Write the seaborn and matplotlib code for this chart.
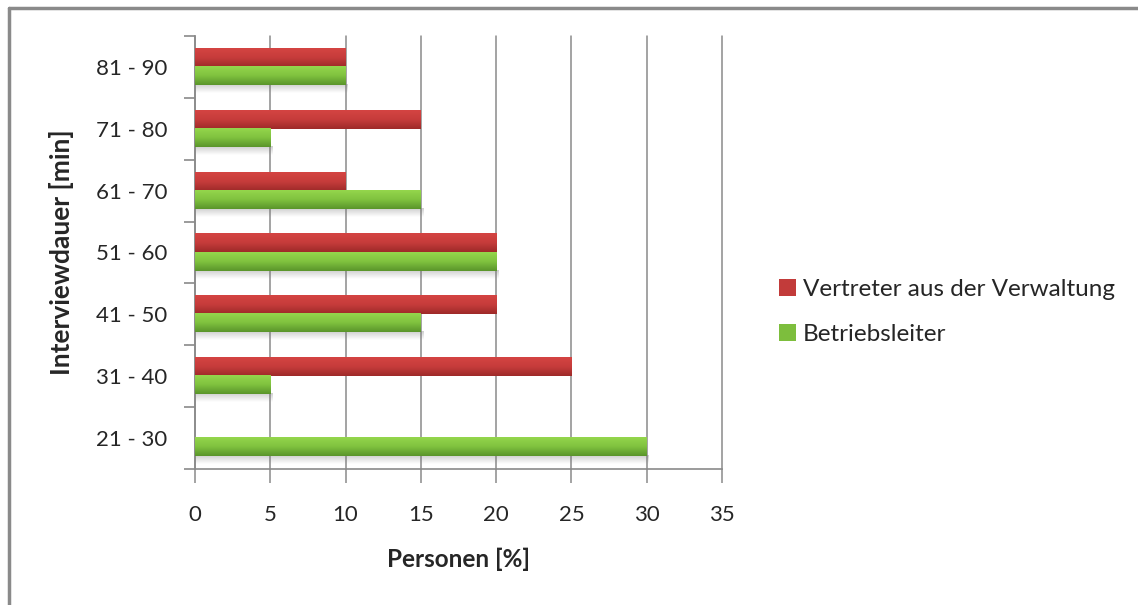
import numpy as np
import pandas as pd
import matplotlib.pyplot as plt
import seaborn as sns
from matplotlib.lines import Line2D
from matplotlib.patches import Patch
from matplotlib.colors import LinearSegmentedColormap

# Data
categories = ['81 - 90', '71 - 80', '61 - 70', '51 - 60', '41 - 50', '31 - 40', '21 - 30']
vertreter = [10, 15, 10, 20, 20, 25, 0]
betriebsleiter = [10, 5, 15, 20, 15, 5, 30]
series_names = ['Vertreter aus der Verwaltung', 'Betriebsleiter']
x_ticks = [0, 5, 10, 15, 20, 25, 30, 35]

colors = ['#C23B3A', '#7DBE3D']
# top -> bottom shading of the bars
gradients = {
    colors[0]: ['#D44442', '#C63C3B', '#9E2A29'],
    colors[1]: ['#94D64C', '#80C23F', '#5A952B'],
}

data = pd.DataFrame({
    'Interviewdauer': categories * 2,
    'Personen': vertreter + betriebsleiter,
    'Gruppe': [series_names[0]] * len(categories) + [series_names[1]] * len(categories),
})

sns.set_style('white')
plt.rcParams['font.family'] = ['Lato', 'DejaVu Sans']

fig = plt.figure(figsize=(11.38, 6.05), dpi=100)
ax = fig.add_axes([195 / 1138, 1 - 469 / 605, (722 - 195) / 1138, (469 - 36) / 605])

sns.barplot(data=data, x='Personen', y='Interviewdauer', hue='Gruppe',
            order=categories, hue_order=series_names, palette=colors,
            orient='h', width=0.585, saturation=1, legend=False, ax=ax,
            zorder=3)

# gradient fill on each bar, soft shadow under the lower bar of each pair
grad = np.linspace(0, 1, 64).reshape(-1, 1)
shadow = np.zeros((32, 1, 4))
shadow[:, 0, :3] = 0.45
shadow[:, 0, 3] = np.linspace(0.35, 0, 32)
for bar in list(ax.patches):
    bar.set_edgecolor('none')
    w = bar.get_width()
    if w <= 0:
        continue
    fc = bar.get_facecolor()
    key = colors[0] if fc[0] > fc[1] else colors[1]
    cmap = LinearSegmentedColormap.from_list('g', gradients[key])
    x0, y0, h = bar.get_x(), bar.get_y(), bar.get_height()
    ax.imshow(grad, cmap=cmap, aspect='auto', extent=[x0, x0 + w, y0 + h, y0],
              zorder=4, interpolation='bilinear')
    if key == colors[1]:
        ax.imshow(shadow, aspect='auto', extent=[x0, x0 + w + 0.15, y0 + h + 0.13, y0 + h],
                  zorder=2.5, interpolation='bilinear')

ax.set_xlim(0, 35)
ax.set_ylim(6.5, -0.5)
ax.set_xticks(x_ticks)
ax.set_xticklabels([str(t) for t in x_ticks], fontsize=16)
ax.grid(axis='x', color='#8a8a8a', linewidth=1.1, zorder=0)
ax.grid(axis='y', visible=False)
for gl in ax.get_xgridlines():
    gl.set_clip_on(False)

ax.set_yticks(range(len(categories)))
ax.set_yticklabels(categories, fontsize=16)
ax.set_yticks([i - 0.5 for i in range(len(categories) + 1)], minor=True)
ax.tick_params(axis='y', which='major', left=True, length=0, pad=20)
ax.tick_params(axis='y', which='minor', left=True, length=8, width=1.2,
               color='#8a8a8a', direction='out')
ax.tick_params(axis='x', bottom=True, length=10, width=1.1, color='#8a8a8a',
               direction='out', pad=16)

for side in ['top', 'right']:
    ax.spines[side].set_visible(False)
for side in ['left', 'bottom']:
    ax.spines[side].set_color('#8a8a8a')
    ax.spines[side].set_linewidth(1.2)

ax.set_xlabel('Personen [%]', fontsize=17.5, fontweight='bold', labelpad=16)
ax.set_ylabel('Interviewdauer [min]', fontsize=19, fontweight='bold', labelpad=16)

handles = [Patch(facecolor=c, edgecolor='none') for c in colors]
fig.legend(handles, series_names, loc='upper left',
           bbox_to_anchor=(757 / 1138, 1 - 257 / 605),
           frameon=False, fontsize=17.5, handlelength=0.7, handleheight=0.7,
           handletextpad=0.3, labelspacing=1.0)

# outer frame (left and top edges)
fig.add_artist(Line2D([9 / 1138, 9 / 1138], [0, 1 - 8 / 605], transform=fig.transFigure,
                      color='#8a8a8a', linewidth=2.5))
fig.add_artist(Line2D([9 / 1138, 1], [1 - 8 / 605, 1 - 8 / 605], transform=fig.transFigure,
                      color='#8a8a8a', linewidth=2.5))

fig.savefig('out.png', dpi=100)
